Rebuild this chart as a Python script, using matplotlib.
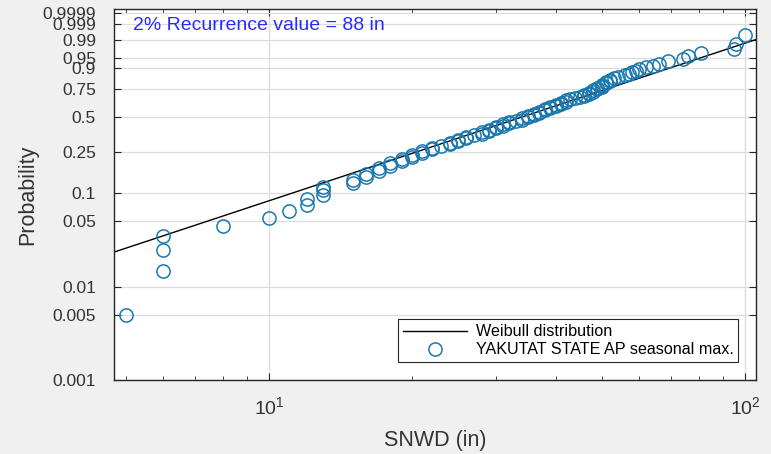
import numpy as np
import matplotlib
matplotlib.use("Agg")
import matplotlib.pyplot as plt
from matplotlib.ticker import FixedLocator, NullFormatter, LogLocator

plt.rcParams['font.family'] = ['Liberation Sans', 'DejaVu Sans']
plt.rcParams['mathtext.fontset'] = 'custom'
plt.rcParams['mathtext.rm'] = 'Liberation Sans'

# Seasonal maximum snow depth (in), sorted (n = 100)
snwd = [5, 6, 6, 6, 8, 10, 11, 12, 12, 13, 13, 13,
        15, 15, 16, 16, 17, 17, 18, 18, 19, 19, 20, 20, 21, 21, 22, 22,
        23, 24, 24, 25, 25, 26, 26, 27, 28, 28, 29, 29,
        30, 30, 31, 31, 32, 32, 33, 34, 34,
        35, 35, 36, 36, 37, 37, 38, 38, 39, 39, 40, 40, 41, 41,
        42, 42, 43, 44, 45, 46, 46, 47, 47,
        48, 48, 49, 49, 50, 50, 50, 51, 51, 52, 52, 53, 54, 56, 57, 58, 59, 60,
        62, 64, 66, 69, 74, 76, 81, 95, 96, 100]

# Fitted Weibull parameters (shape, scale)
wb_shape = 1.70
wb_scale = 42.4

ytick_vals = [0.001, 0.005, 0.01, 0.05, 0.1, 0.25, 0.5, 0.75, 0.9, 0.95, 0.99, 0.999, 0.9999]
ytick_labels = ['0.001', '0.005', '0.01', '0.05', '0.1', '0.25', '0.5', '0.75', '0.9', '0.95', '0.99', '0.999', '0.9999']

x = np.sort(np.array(snwd, dtype=float))
n = len(x)
p = (np.arange(1, n + 1) - 0.5) / n

def fwd(pp):
    pp = np.clip(pp, 1e-12, 1 - 1e-15)
    return np.log(-np.log(1 - pp))

def inv(g):
    return 1 - np.exp(-np.exp(g))

fig = plt.figure(figsize=(7.71, 4.54), dpi=100)
fig.patch.set_facecolor('#f0f0f0')
ax = fig.add_axes([0.1479, 0.163, 0.8326, 0.817])
ax.set_facecolor('white')
ax.set_xscale('log')
ax.set_yscale('function', functions=(fwd, inv))

xlim = (4.725, 105.5)
xx = np.geomspace(xlim[0], xlim[1], 200)
cdf = 1 - np.exp(-(xx / wb_scale) ** wb_shape)
ax.plot(xx, cdf, color='black', lw=1.0, label='Weibull distribution', zorder=2)
ax.plot(x, p, linestyle='none', marker='o', markersize=9.5, markerfacecolor='none',
        markeredgecolor='#1a78b0', markeredgewidth=1.1,
        label='YAKUTAT STATE AP seasonal max.', zorder=3)

ax.set_xlim(*xlim)
ax.set_ylim(0.001, 0.999956)

ax.yaxis.set_major_locator(FixedLocator(ytick_vals))
ax.set_yticks(ytick_vals)
ax.set_yticklabels(ytick_labels)
ax.yaxis.set_minor_locator(FixedLocator([]))

ax.xaxis.set_major_locator(LogLocator(base=10, numticks=10))
ax.xaxis.set_minor_locator(LogLocator(base=10, subs=np.arange(2, 10), numticks=20))
ax.xaxis.set_minor_formatter(NullFormatter())

ax.tick_params(axis='both', which='both', direction='in', top=True, right=True,
               colors='#262626', labelcolor='#333333')
ax.tick_params(axis='y', which='major', length=5, labelsize=12.5, pad=13)
ax.tick_params(axis='x', which='major', length=5, labelsize=14, pad=12)
ax.tick_params(axis='x', which='minor', length=3)
for sp in ax.spines.values():
    sp.set_color('#262626')
    sp.set_linewidth(1.0)

ax.grid(True, which='major', color='#dcdcdc', lw=0.9)
ax.set_axisbelow(True)

ax.set_xlabel('SNWD (in)', fontsize=15.5, color='#333333', labelpad=8)
ax.set_ylabel('Probability', fontsize=15.5, color='#333333', labelpad=3)

ax.text(0.03, 0.955, '2% Recurrence value = 88 in', transform=ax.transAxes,
        color='#2a2aff', fontsize=14, va='center', ha='left')

leg = ax.legend(loc='lower right', fontsize=11.6, frameon=True, fancybox=False,
                edgecolor='#262626', framealpha=1, borderpad=0.3, handlelength=4.0,
                handletextpad=0.5, labelspacing=0.2, borderaxespad=1.1)
leg.get_frame().set_linewidth(0.8)

fig.savefig('out.png', dpi=100, facecolor=fig.get_facecolor())
